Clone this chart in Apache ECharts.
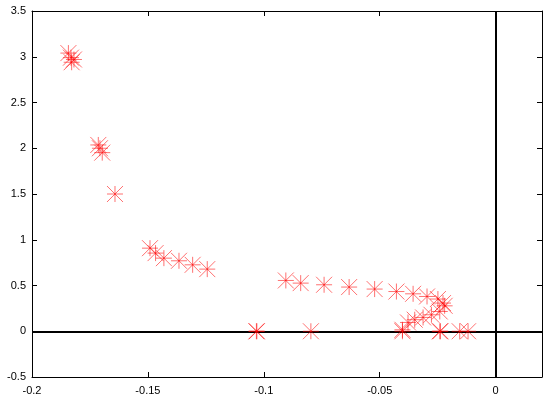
<!DOCTYPE html>
<html>
<head>
<meta charset="utf-8">
<script src="https://cdn.jsdelivr.net/npm/echarts@6/dist/echarts.min.js"></script>
<style>html,body{margin:0;padding:0;background:#fff}#c{width:550px;height:399px}</style>
</head>
<body>
<div id="c"></div>
<script>
const xValues = [
  -0.1843, -0.1832, -0.1819, -0.1829,
  -0.1714, -0.1707, -0.1697,
  -0.1642,
  -0.1491, -0.1467, -0.1431, -0.1366, -0.1307, -0.1244,
  -0.0905, -0.0841, -0.0740, -0.0632, -0.0522, -0.0428, -0.0356, -0.0296, -0.0249, -0.0227, -0.0220,
  -0.0241, -0.0277, -0.0313, -0.0349, -0.0378, -0.0402,
  -0.1032, -0.1030, -0.0797, -0.0402, -0.0241, -0.0238, -0.0155, -0.0119
];
const yValues = [
  3.04, 2.99, 2.97, 2.94,
  2.036, 2.0, 1.952,
  1.50,
  0.908, 0.854, 0.799, 0.770, 0.726, 0.679,
  0.555, 0.526, 0.508, 0.483, 0.461, 0.434, 0.409, 0.380, 0.352, 0.308, 0.278,
  0.216, 0.180, 0.151, 0.126, 0.096, 0.016,
  0.0, 0.0, 0.0, 0.0, 0.0, 0.0, 0.0, 0.0
];
const xTickLabels = ['-0.2', '-0.15', '-0.1', '-0.05', '0'];
const yTickLabels = ['-0.5', '0', '0.5', '1', '1.5', '2', '2.5', '3', '3.5'];

const points = xValues.map((x, i) => [x, yValues[i]]);
const star = 'path://M0,-1L0,1M-1,0L1,0M-1,-1L1,1M-1,1L1,-1';
const font = {fontFamily: 'Liberation Sans, Arial, sans-serif', fontSize: 11, color: '#000'};

function fmtX(v) {
  const s = xTickLabels.find(t => Math.abs(parseFloat(t) - v) < 1e-9);
  return s === undefined ? '' : s;
}
function fmtY(v) {
  const s = yTickLabels.find(t => Math.abs(parseFloat(t) - v) < 1e-9);
  return s === undefined ? '' : s;
}

const axisLine = {show: true, onZero: false, lineStyle: {color: '#000', width: 1}};
const chart = echarts.init(document.getElementById('c'));
chart.setOption({
  animation: false,
  backgroundColor: '#fff',
  grid: {left: 32, right: 8, top: 11, bottom: 22, containLabel: false},
  xAxis: [
    {type: 'value', min: -0.2, max: 0.02, interval: 0.05, position: 'bottom',
     axisLine: axisLine, axisTick: {inside: true, length: 5, lineStyle: {color: '#000'}},
     axisLabel: Object.assign({formatter: fmtX, margin: 8, showMaxLabel: false}, font),
     splitLine: {show: false}},
    {type: 'value', min: -0.2, max: 0.02, interval: 0.05, position: 'top',
     axisLine: axisLine, axisTick: {inside: true, length: 5, lineStyle: {color: '#000'}},
     axisLabel: {show: false}, splitLine: {show: false}}
  ],
  yAxis: [
    {type: 'value', min: -0.5, max: 3.5, interval: 0.5, position: 'left',
     axisLine: axisLine, axisTick: {inside: true, length: 5, lineStyle: {color: '#000'}},
     axisLabel: Object.assign({formatter: fmtY, margin: 6}, font),
     splitLine: {show: false}},
    {type: 'value', min: -0.5, max: 3.5, interval: 0.5, position: 'right',
     axisLine: axisLine, axisTick: {inside: true, length: 5, lineStyle: {color: '#000'}},
     axisLabel: {show: false}, splitLine: {show: false}}
  ],
  series: [
    {
      type: 'scatter',
      xAxisIndex: 0, yAxisIndex: 0,
      data: points,
      symbol: star,
      symbolSize: 16,
      symbolKeepAspect: true,
      itemStyle: {color: 'none', borderColor: 'rgba(255,0,0,0.7)', borderWidth: 1},
      emphasis: {disabled: true},
      markLine: {
        silent: true,
        symbol: ['none', 'none'],
        label: {show: false},
        lineStyle: {color: '#000', width: 2, type: 'solid'},
        data: [{xAxis: 0}, {yAxis: 0}],
        z: 1
      },
      z: 3
    }
  ]
});
</script>
</body>
</html>
